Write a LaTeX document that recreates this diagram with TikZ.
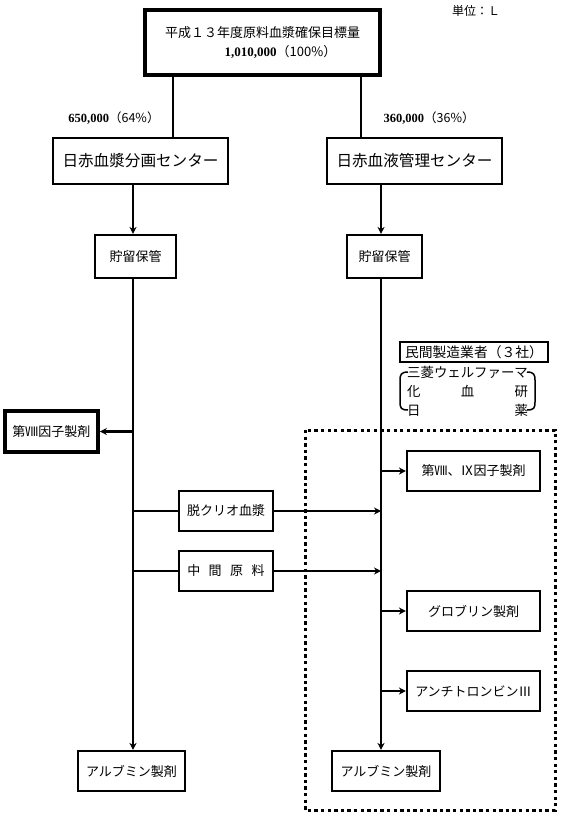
\documentclass[tikz,border=0pt]{standalone}
\usepackage{fontspec}
\setmainfont{Liberation Serif}
\newfontfamily\jp{Noto Sans CJK JP}
\usetikzlibrary{arrows.meta, positioning, calc}

\begin{document}
\begin{tikzpicture}[x=1pt,y=-1pt,
  box/.style={draw,line width=2.1pt,inner sep=0pt,font=\jp\fontsize{13}{19}\selectfont},
  boldbox/.style={box,line width=3.6pt},
  conn/.style={line width=2.2pt},
  arr/.style={conn,-{Stealth[length=7pt,width=7pt]}},
  lbl/.style={inner sep=0pt,font=\jp\fontsize{12.5}{19}\selectfont}]
\useasboundingbox (0,0) rectangle (560,818);

% Target
\node[boldbox,minimum width=235,minimum height=65,align=center] (goal) at (262.5,42.5)
  {平成１３年度原料血漿確保目標量\\\hspace*{36pt}{\rmfamily\bfseries 1,010,000}（100\%）};
\node[lbl,font=\jp\fontsize{12}{14}\selectfont] (unit) at (476,11) {単位：Ｌ};

% Split
\node[lbl] (share1) at (114,118) {{\rmfamily\bfseries 650,000}（64\%）};
\node[lbl] (share2) at (429,118) {{\rmfamily\bfseries 360,000}（36\%）};

% Centres
\node[box,font=\jp\fontsize{15.6}{19}\selectfont,minimum width=175,minimum height=46] (plasma) at (140.5,161) {日赤血漿分画センター};
\node[box,font=\jp\fontsize{15.6}{19}\selectfont,minimum width=175,minimum height=46] (blood) at (414.5,161) {日赤血液管理センター};

\node[box,minimum width=81,minimum height=43] (store1) at (135.5,256.5) {貯留保管};
\node[box,minimum width=75,minimum height=43] (store2) at (384.5,256.5) {貯留保管};

% Left side products
\node[boldbox,minimum width=93,minimum height=41] (f8) at (51.5,431.5) {第Ⅷ因子製剤};
\node[box,minimum width=94,minimum height=40] (cryo) at (226,511) {脱クリオ血漿};
\node[box,minimum width=94,minimum height=40] (mid) at (226,571) {中\hspace{8.5pt}間\hspace{8.5pt}原\hspace{8.5pt}料};
\node[box,minimum width=107,minimum height=40] (alb1) at (131.5,771) {アルブミン製剤};

% Private makers
\node[box,line width=1.2pt,font=\jp\fontsize{13.8}{19}\selectfont,minimum width=148,minimum height=20] (maker) at (474,352) {民間製造業者（３社）};
\node[lbl,font=\jp\fontsize{13.4}{19}\selectfont,align=center] (firms) at (467.5,391)
  {\makebox[121pt]{三菱ウェルファーマ}\\\makebox[121pt]{化\hfill 血\hfill 研}\\\makebox[121pt]{日\hfill 薬}};
\draw[line width=1.5pt] (408,372) .. controls (401,372) and (400,375) .. (400,380) -- (400,402) .. controls (400,408) and (401,410) .. (408,410);
\draw[line width=1.5pt] (527,372) .. controls (534,372) and (535,375) .. (535,380) -- (535,402) .. controls (535,408) and (534,410) .. (527,410);

\draw[line width=3pt,dash pattern=on 3.3pt off 3.3pt] (305,430) rectangle (555,810);

\node[box,minimum width=133,minimum height=40] (f89) at (473.5,471) {第Ⅷ、Ⅸ因子製剤};
\node[box,minimum width=133,minimum height=40] (glob) at (473.5,611) {グロブリン製剤};
\node[box,minimum width=133,minimum height=40] (anti) at (473.5,691) {アンチトロンビンⅢ};
\node[box,minimum width=108,minimum height=40] (alb2) at (386,771) {アルブミン製剤};

% Connectors
\coordinate (a1) at (173,0);
\coordinate (a2) at (361,0);
\coordinate (L) at (133,0);
\coordinate (R) at (381,0);
\draw[conn] (goal.south -| a1) -- (plasma.north -| a1);
\draw[conn] (goal.south -| a2) -- (blood.north -| a2);
\draw[arr] (plasma.south -| L) -- (store1.north -| L);
\draw[arr] (blood.south -| R) -- (store2.north -| R);
\draw[arr] (store1.south -| L) -- (alb1.north -| L);
\draw[arr] (store2.south -| R) -- (alb2.north -| R);

\draw[arr] (f8.east -| L) -- (f8.east);
\draw[conn] (cryo.west -| L) -- (cryo.west);
\draw[arr] (cryo.east) -- (cryo.east -| R);
\draw[conn] (mid.west -| L) -- (mid.west);
\draw[arr] (mid.east) -- (mid.east -| R);

\draw[arr] (f89.west -| R) -- (f89.west);
\draw[arr] (glob.west -| R) -- (glob.west);
\draw[arr] (anti.west -| R) -- (anti.west);
\end{tikzpicture}
\end{document}
